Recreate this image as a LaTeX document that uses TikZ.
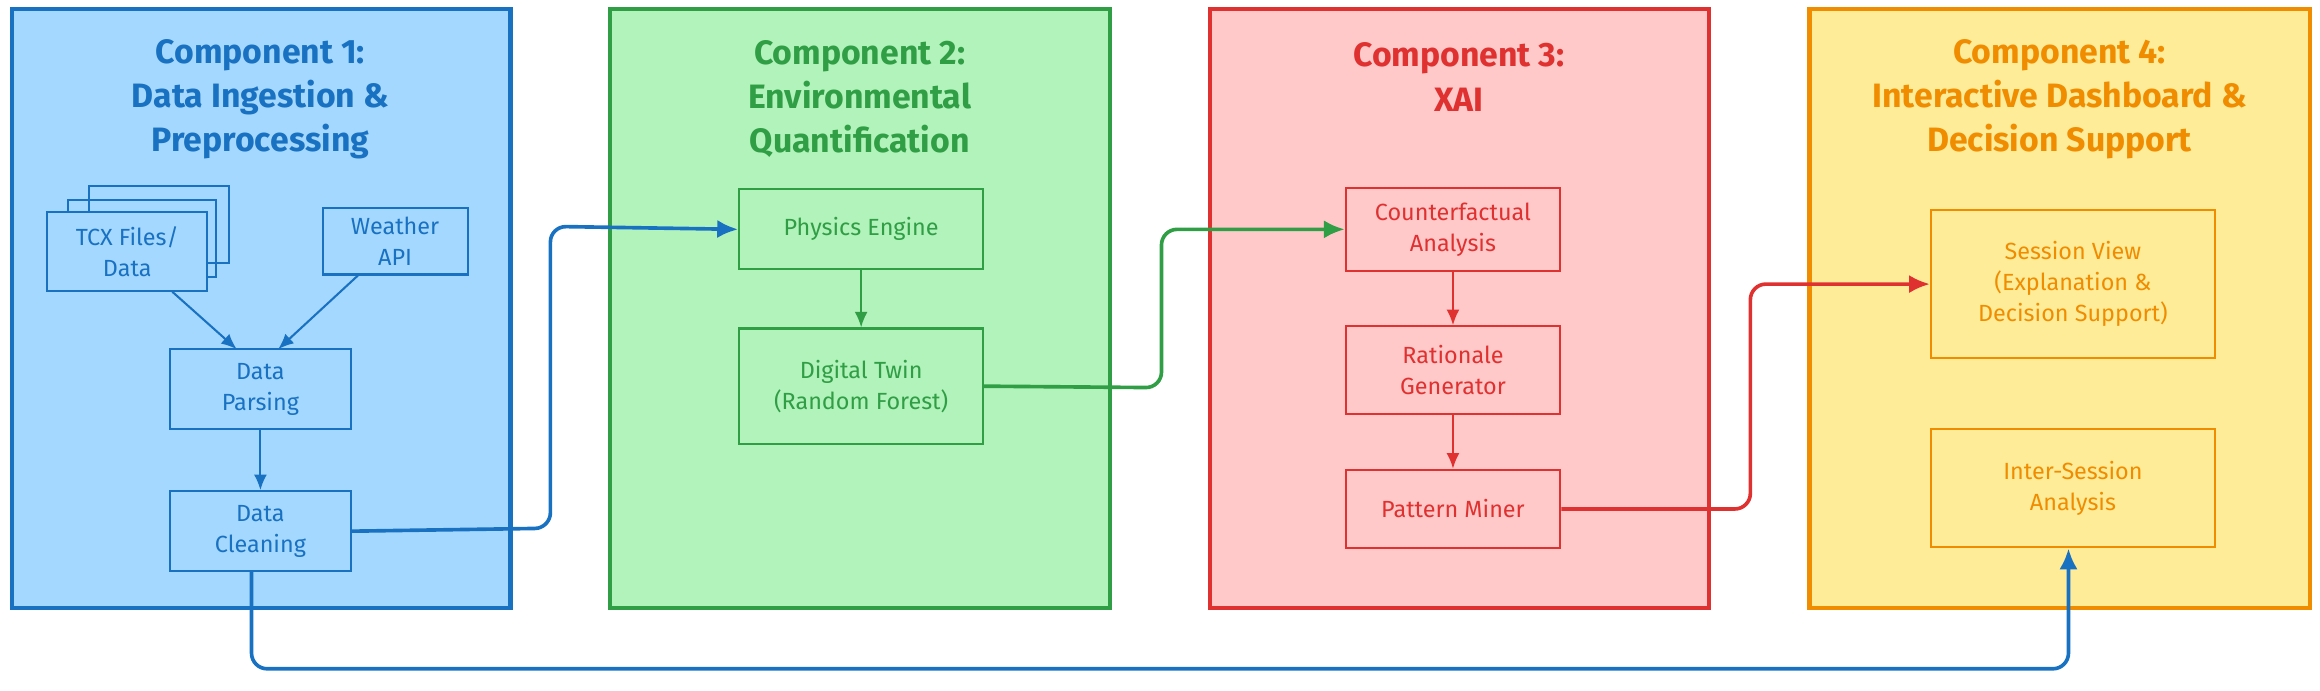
\documentclass[tikz,border=0pt]{standalone}
\usepackage{fontspec}
\setmainfont{Fira Sans}
\usetikzlibrary{arrows.meta}
\definecolor{blueS}{HTML}{1971C2}\definecolor{blueF}{HTML}{A5D8FF}
\definecolor{greenS}{HTML}{2F9E44}\definecolor{greenF}{HTML}{B2F2BB}
\definecolor{redS}{HTML}{E03131}\definecolor{redF}{HTML}{FFC9C9}
\definecolor{orangeS}{HTML}{F08C00}\definecolor{orangeF}{HTML}{FFEC99}
\begin{document}
\begin{tikzpicture}[x=0.02cm,y=-0.02cm]
\tikzset{panel/.style = {draw=#1S, fill=#1F, line width=1.6pt}}
\tikzset{title/.style = {text=#1S, align=center, font=\fontsize{13}{17}\selectfont\bfseries}}
\tikzset{step/.style = {draw=#1S, text=#1S, line width=.8pt, align=center, font=\fontsize{9}{12}\selectfont, inner sep=0pt}}
\tikzset{edge/.style = {-{Latex[length=6pt,width=5pt]}, draw=#1S, line width=.8pt}}
\tikzset{link/.style = {-{Latex[length=8pt,width=7pt]}, draw=#1S, line width=1.4pt, rounded corners=6pt}}
\useasboundingbox (0,0) rectangle (1568,467);

\draw[panel=blue]   (8,6) rectangle (345,411);
\draw[panel=green]  (412,6) rectangle (750,411);
\draw[panel=red]    (818,6) rectangle (1155,411);
\draw[panel=orange] (1223,6) rectangle (1561,411);

\node[title=blue]   (t1) at (176,67) {Component 1:\\Data Ingestion \&\\Preprocessing};
\node[title=green]  (t2) at (581,67) {Component 2:\\Environmental\\Quantification};
\node[title=red]    (t3) at (986,52) {Component 3:\\XAI};
\node[title=orange] (t4) at (1392,67) {Component 4:\\Interactive Dashboard \&\\Decision Support};

% component 1
\draw[draw=blueS, line width=.8pt] (60,126) rectangle (155,178);
\draw[draw=blueS, line width=.8pt] (46,135) rectangle (146,187);
\node[step=blue, fill=blueF, minimum width=2.16cm, minimum height=1.06cm] (tcx) at (86,170) {TCX Files/\\Data};
\node[step=blue, minimum width=1.96cm, minimum height=0.9cm] (api) at (267,163) {Weather\\API};
\node[step=blue, minimum width=2.44cm, minimum height=1.08cm] (parse) at (176,263) {Data\\Parsing};
\node[step=blue, minimum width=2.44cm, minimum height=1.08cm] (clean) at (176,359) {Data\\Cleaning};
\draw[edge=blue] (tcx) -- (160,236);
\draw[edge=blue] (api) -- (188,236);
\draw[edge=blue] (parse) -- (clean);

% component 2
\node[step=green, minimum width=3.3cm, minimum height=1.08cm] (phys) at (582,155) {Physics Engine};
\node[step=green, minimum width=3.3cm, minimum height=1.56cm] (twin) at (582,261) {Digital Twin\\(Random Forest)};
\draw[edge=green] (phys) -- (twin);

% component 3
\node[step=red, minimum width=2.9cm, minimum height=1.12cm] (cf) at (982,155) {Counterfactual\\Analysis};
\node[step=red, minimum width=2.9cm, minimum height=1.18cm] (rat) at (982,250) {Rationale\\Generator};
\node[step=red, minimum width=2.9cm, minimum height=1.06cm] (pat) at (982,344) {Pattern Miner};
\draw[edge=red] (cf) -- (rat);
\draw[edge=red] (rat) -- (pat);

% component 4
\node[step=orange, minimum width=3.84cm, minimum height=2cm] (sess) at (1401,192) {Session View\\(Explanation \&\\Decision Support)};
\node[step=orange, minimum width=3.84cm, minimum height=1.6cm] (inter) at (1401,330) {Inter-Session\\Analysis};

% links between components
\draw[link=blue]  (clean.east) -- (372,357) -- (372,153) -- (phys.west);
\draw[link=green] (twin.east) -- (785,262) -- (785,155) -- (cf.west);
\draw[link=red]   (pat.east) -- (1183,344) -- (1183,192) -- (sess.west);
\draw[link=blue]  (170,386) -- (170,452) -- (1398,452) -- (inter.south -| 1398,0);
\end{tikzpicture}
\end{document}
